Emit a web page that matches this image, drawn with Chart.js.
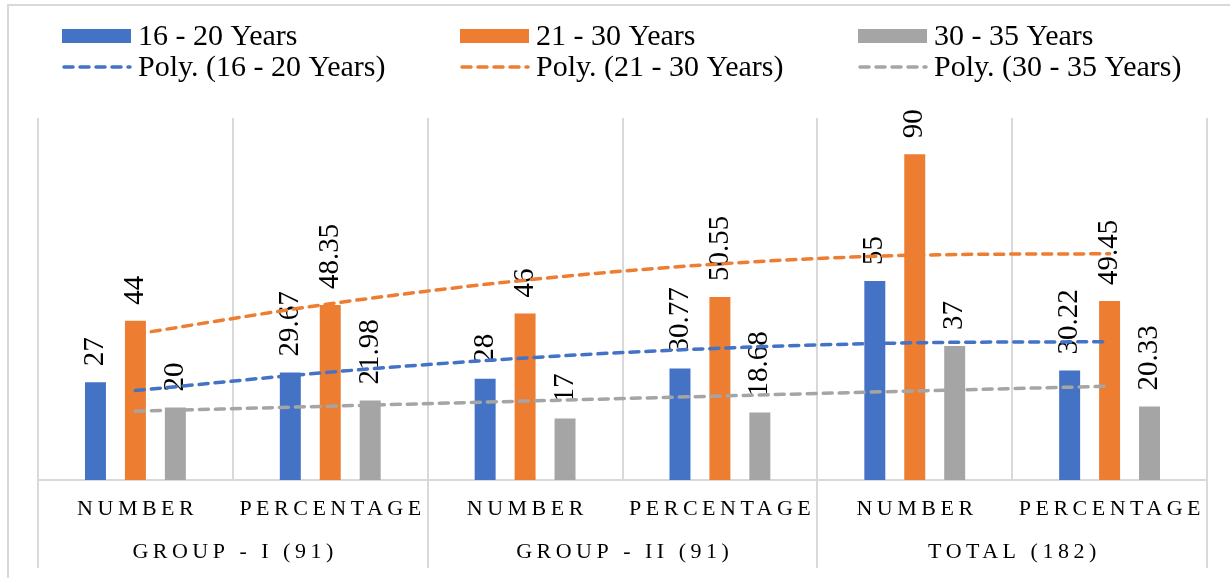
<!DOCTYPE html>
<html>
<head>
<meta charset="utf-8">
<script src="https://cdn.jsdelivr.net/npm/chart.js@4/dist/chart.umd.min.js"></script>
<style>
  html, body { margin: 0; padding: 0; background: #ffffff; }
  #wrap { position: relative; width: 1230px; height: 578px; overflow: hidden; }
  #frame { position: absolute; left: 7px; top: 4px; width: 1260px; height: 620px;
           border: 2px solid #d9d9d9; box-sizing: border-box; }
  #chart { position: absolute; left: 0; top: 0; }
</style>
</head>
<body>
<div id="wrap">
  <div id="frame"></div>
  <canvas id="chart" width="1230" height="578"></canvas>
</div>
<script>
// Categories (first axis row) and their groups (second axis row)
const categories = ['NUMBER', 'PERCENTAGE', 'NUMBER', 'PERCENTAGE', 'NUMBER', 'PERCENTAGE'];
const groups = ['GROUP - I (91)', 'GROUP - II (91)', 'TOTAL (182)'];

// Bar values per age band
const age16to20 = [27, 29.67, 28, 30.77, 55, 30.22];
const age21to30 = [44, 48.35, 46, 50.55, 90, 49.45];
const age30to35 = [20, 21.98, 17, 18.68, 37, 20.33];

// Polynomial trend values at each category
const poly16to20 = [24.7, 29.8, 33.7, 36.4, 37.9, 38.2];
const poly21to30 = [40.3, 48.7, 55.2, 59.7, 62.1, 62.5];
const poly30to35 = [19.0, 20.4, 21.8, 23.2, 24.6, 25.9];

const BLUE = '#4472C4', ORANGE = '#ED7D31', GRAY = '#A5A5A5';
const GRID = '#d9d9d9';
const SERIF = '"Liberation Serif", "Times New Roman", serif';

Chart.defaults.font.family = SERIF;

// Rotated value labels above each bar
const valueLabels = {
  id: 'valueLabels',
  afterDatasetDraw(chart, args) {
    const ds = chart.data.datasets[args.index];
    if (ds.type !== 'bar') return;
    const ctx = chart.ctx;
    ctx.save();
    ctx.font = '29px ' + SERIF;
    ctx.fillStyle = '#000000';
    ctx.textAlign = 'left';
    ctx.textBaseline = 'middle';
    args.meta.data.forEach((bar, i) => {
      ctx.save();
      ctx.translate(bar.x, bar.y - 16);
      ctx.rotate(-Math.PI / 2);
      ctx.fillText(String(ds.data[i]), 0, 0);
      ctx.restore();
    });
    ctx.restore();
  }
};

// Three-column legend: bars on the first row, trend lines on the second
const gridLegend = {
  id: 'gridLegend',
  afterDraw(chart) {
    const ctx = chart.ctx;
    ctx.save();
    ctx.font = '30px ' + SERIF;
    ctx.textAlign = 'left';
    ctx.textBaseline = 'middle';
    chart.data.datasets.forEach((ds, i) => {
      const col = i % 3, row = Math.floor(i / 3);
      const x = 62 + col * 398;
      const y = 36 + row * 31;
      if (ds.type === 'bar') {
        ctx.fillStyle = ds.backgroundColor;
        ctx.fillRect(x, y - 7, 69, 14);
      } else {
        ctx.strokeStyle = ds.borderColor;
        ctx.lineWidth = 3.5;
        ctx.lineCap = 'round';
        ctx.setLineDash(ds.borderDash);
        ctx.beginPath();
        ctx.moveTo(x + 2, y);
        ctx.lineTo(x + 68, y);
        ctx.stroke();
        ctx.setLineDash([]);
      }
      ctx.fillStyle = '#000000';
      ctx.fillText(ds.label, x + 76, y + 1);
    });
    ctx.restore();
  }
};

// Wider character spacing for the category axis labels
const spacedTicks = {
  id: 'spacedTicks',
  beforeDraw(chart) {
    ['x', 'x2'].forEach(id => {
      const s = chart.scales[id];
      if (!s || s._spaced) return;
      const orig = s.drawLabels;
      s.drawLabels = function (area) {
        const c = this.ctx;
        c.save();
        c.letterSpacing = '4.5px';
        c.translate(2.25, 0);
        orig.call(this, area);
        c.restore();
      };
      s._spaced = true;
    });
  }
};

function barSet(label, data, color) {
  return { type: 'bar', label, data, backgroundColor: color, order: 1,
           categoryPercentage: 0.615, barPercentage: 0.525 };
}
function trendSet(label, data, color) {
  return { type: 'line', label, data, borderColor: color, borderWidth: 3.5,
           borderDash: [9, 7], borderCapStyle: 'round', pointRadius: 0,
           fill: false, cubicInterpolationMode: 'monotone', order: 0 };
}

new Chart(document.getElementById('chart'), {
  type: 'bar',
  data: {
    labels: categories,
    datasets: [
      barSet('16 - 20 Years', age16to20, BLUE),
      barSet('21 - 30 Years', age21to30, ORANGE),
      barSet('30 - 35 Years', age30to35, GRAY),
      trendSet('Poly. (16 - 20 Years)', poly16to20, BLUE),
      trendSet('Poly. (21 - 30 Years)', poly21to30, ORANGE),
      trendSet('Poly. (30 - 35 Years)', poly30to35, GRAY)
    ]
  },
  options: {
    responsive: false,
    animation: false,
    layout: { padding: { left: 38, right: 23, top: 118, bottom: 10 } },
    plugins: { legend: { display: false }, tooltip: { enabled: false } },
    scales: {
      y: { display: false, min: 0, max: 100 },
      x: {
        offset: true,
        weight: 0,
        grid: {
          offset: true,
          color: GRID,
          lineWidth: 2,
          drawTicks: true,
          tickLength: 44,
          tickColor: c => (c.type !== 'tick' || c.index % 2 === 0) ? GRID : 'rgba(0,0,0,0)'
        },
        border: { display: true, color: GRID, width: 2 },
        ticks: { padding: -28, color: '#000000', font: { size: 22 },
                 maxRotation: 0, autoSkip: false },
        afterFit: s => { s.height = 44; }
      },
      x2: {
        type: 'category',
        labels: groups,
        position: 'bottom',
        offset: true,
        weight: 1,
        grid: {
          offset: true,
          drawOnChartArea: false,
          color: GRID,
          lineWidth: 2,
          tickLength: 44,
          tickColor: GRID
        },
        border: { display: false },
        ticks: { padding: -29, color: '#000000', font: { size: 22 },
                 maxRotation: 0, autoSkip: false },
        afterFit: s => { s.height = 44; }
      }
    }
  },
  plugins: [valueLabels, gridLegend, spacedTicks]
});
</script>
</body>
</html>
